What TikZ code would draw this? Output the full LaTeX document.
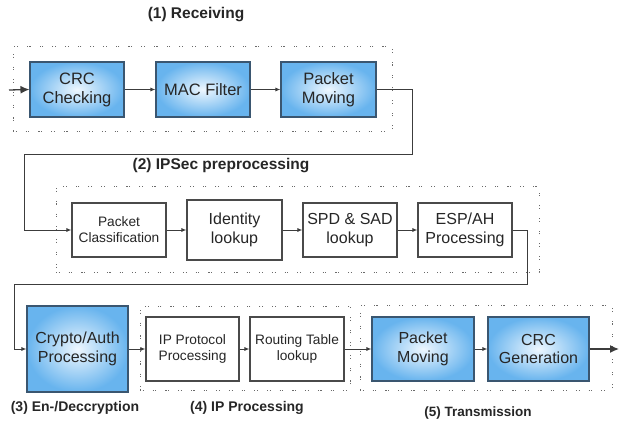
\documentclass[tikz,border=0pt]{standalone}
\usepackage{fontspec}
\setmainfont{Liberation Sans}
\usetikzlibrary{arrows.meta,shadows}
\definecolor{bedge}{HTML}{68B4EE}
\definecolor{bcent}{HTML}{EEF7FE}
\definecolor{bline}{HTML}{3A5670}
\definecolor{wline}{HTML}{4A4A4A}
\definecolor{cline}{HTML}{3C3C3C}
\definecolor{dotc}{HTML}{6A6A6A}
\tikzset{
  boxbase/.style={rectangle, inner sep=0pt, align=center, text=black!85,
    drop shadow={shadow xshift=1.2pt, shadow yshift=-1.2pt, opacity=0.3, fill=black!60}},
  bluebox/.style={boxbase, draw=bline, line width=1.1pt, shading=radial,
    inner color=bcent, outer color=bedge, font=\fontsize{16}{18.5}\selectfont},
  whitebox/.style={boxbase, draw=wline, line width=1.1pt, fill=white,
    font=\fontsize{16}{18.5}\selectfont},
  bigtext/.style={font=\fontsize{16.5}{19}\selectfont},
  smalltext/.style={font=\fontsize{13.7}{16}\selectfont},
  grp/.style={rectangle, inner sep=0pt, draw=dotc, line width=0.9pt,
    dash pattern=on 1.1pt off 1.5pt on 1.1pt off 9pt},
  conn/.style={draw=cline, line width=0.9pt, -{Latex[length=5pt,width=4pt]}},
  bigconn/.style={draw=cline, line width=1.3pt, -{Latex[length=9pt,width=8pt]}},
  lab/.style={font=\bfseries\fontsize{14}{16}\selectfont, text=black!85},
  toplab/.style={lab, font=\bfseries\fontsize{15.5}{17}\selectfont}
}
\begin{document}
\begin{tikzpicture}[x=1pt,y=-1pt]
\useasboundingbox (0,0) rectangle (619,423);
% group frames
\node[grp, minimum width=379pt, minimum height=85pt] (g1) at (202.5,88.5) {};
\node[grp, minimum width=483pt, minimum height=86pt] (g2) at (297.5,229) {};
\node[grp, minimum width=210pt, minimum height=84pt] (g4) at (245,348) {};
\node[grp, minimum width=252pt, minimum height=85pt] (g5) at (486,347.5) {};
% titles
\node[toplab] (t1) at (196,15) {(1) Receiving};
\node[toplab] (t2) at (221,166) {(2) IPSec preprocessing};
\node[lab] (t3) at (75,408) {(3) En-/Deccryption};
\node[lab] (t4) at (247,408) {(4) IP Processing};
\node[lab, font=\bfseries\fontsize{13.5}{16}\selectfont] (t5) at (478,413) {(5) Transmission};
% row 1
\node[bluebox, bigtext, minimum width=94pt, minimum height=55pt] (crc) at (77,89.5) {CRC\\Checking};
\node[bluebox, bigtext, minimum width=94pt, minimum height=55pt] (mac) at (203,89.5) {MAC Filter};
\node[bluebox, bigtext, minimum width=95pt, minimum height=55pt] (pm1) at (328.5,89.5) {Packet\\Moving};
% row 2
\node[whitebox, smalltext, minimum width=94pt, minimum height=54pt] (pc) at (119,230) {Packet\\Classification};
\node[whitebox, minimum width=95pt, minimum height=60pt] (idl) at (234.5,230) {Identity\\lookup};
\node[whitebox, minimum width=94pt, minimum height=54pt] (spd) at (350,230) {SPD \& SAD\\lookup};
\node[whitebox, minimum width=94pt, minimum height=54pt] (esp) at (465,230) {ESP/AH\\Processing};
% row 3
\node[bluebox, minimum width=101pt, minimum height=86pt] (cry) at (77.5,349) {Crypto/Auth\\Processing};
\node[whitebox, smalltext, minimum width=93pt, minimum height=64pt] (ipp) at (192.5,349) {IP Protocol\\Processing};
\node[whitebox, smalltext, minimum width=94pt, minimum height=64pt] (rtl) at (297,349) {Routing Table\\lookup};
\node[bluebox, minimum width=102pt, minimum height=64pt] (pm2) at (423,349) {Packet\\Moving};
\node[bluebox, minimum width=101pt, minimum height=64pt] (crcg) at (538.5,349) {CRC\\Generation};
% connector points
\coordinate (in) at (9,90);
\coordinate (c1) at (412,154);
\coordinate (c2) at (24,230);
\coordinate (c3) at (527,284);
\coordinate (c4) at (14,349);
\coordinate (out) at (619,349);
% connectors
\draw[bigconn] (in) -- (crc.west);
\draw[conn] (crc.east) -- (mac.west);
\draw[conn] (mac.east) -- (pm1.west);
\draw[conn] (pm1.east) -| (c1) -| (c2) -- (pc.west);
\draw[conn] (pc.east) -- (idl.west);
\draw[conn] (idl.east) -- (spd.west);
\draw[conn] (spd.east) -- (esp.west);
\draw[conn] (esp.east) -| (c3) -| (c4) -- (cry.west);
\draw[conn] (cry.east) -- (ipp.west);
\draw[conn] (ipp.east) -- (rtl.west);
\draw[conn] (rtl.east) -- (pm2.west);
\draw[conn] (pm2.east) -- (crcg.west);
\draw[bigconn] (crcg.east) -- (out);
\end{tikzpicture}
\end{document}
